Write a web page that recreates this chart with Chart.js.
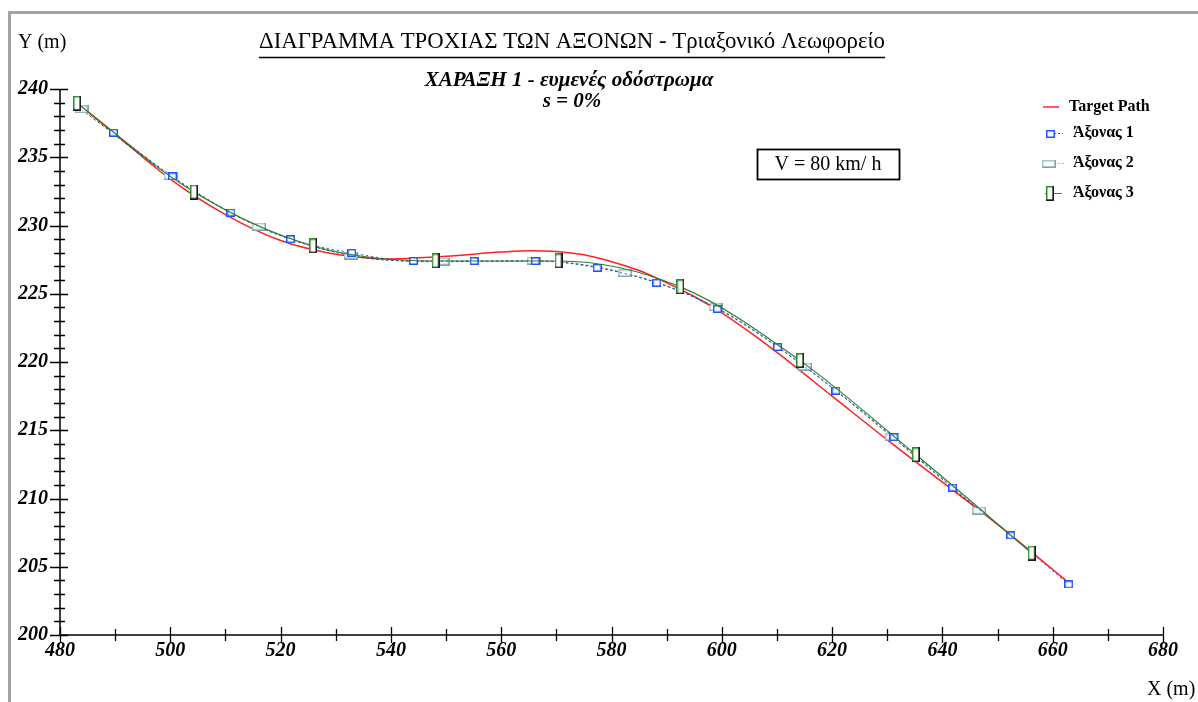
<!DOCTYPE html>
<html>
<head>
<meta charset="utf-8">
<script src="https://cdn.jsdelivr.net/npm/chart.js@4.4.1/dist/chart.umd.min.js"></script>
<style>
html, body { margin: 0; padding: 0; background: #fff; }
</style>
</head>
<body>
<canvas id="trackChart" width="1198" height="702"></canvas>
<script>
// target path (red)
var targetX = [483, 490, 500, 510, 520, 530, 540, 550, 560, 565, 570, 575, 580, 585, 590, 595, 600, 605, 610, 620, 630, 640, 650, 660, 663];
var targetY = [239.0, 236.7, 233.4, 230.8, 228.9, 227.9, 227.55, 227.75, 228.05, 228.15, 228.1, 227.85, 227.35, 226.7, 225.8, 224.8, 223.6, 222.2, 220.7, 217.5, 214.3, 211.2, 208.1, 204.8, 203.8];

// axle 1
var axle1X = [489.7, 500.4, 511.0, 521.8, 532.9, 544.1, 555.1, 566.2, 577.4, 588.2, 599.2, 610.1, 620.7, 631.2, 641.85, 652.4, 662.9];
var axle1Y = [236.8, 233.6, 230.95, 229.0, 228.0, 227.4, 227.4, 227.4, 226.9, 225.8, 223.9, 221.1, 217.9, 214.5, 210.8, 207.3, 203.7];

// axle 2
var axle2X = [483.9, 500.1, 516.1, 532.8, 549.4, 565.9, 582.5, 598.9, 615.1, 630.9, 646.7];
var axle2Y = [238.5, 233.6, 229.9, 227.8, 227.35, 227.4, 226.5, 224.0, 219.65, 214.5, 209.1];

// axle 3
var axle3X = [483.1, 504.3, 525.9, 548.1, 570.4, 592.5, 614.2, 635.2, 656.2];
var axle3Y = [238.95, 232.45, 228.5, 227.4, 227.4, 225.5, 220.1, 213.2, 206.0];

var seriesNames = ["Target Path", "Άξονας 1", "Άξονας 2", "Άξονας 3"];
var xTicks = [480, 500, 520, 540, 560, 580, 600, 620, 640, 660, 680];
var yTicks = [200, 205, 210, 215, 220, 225, 230, 235, 240];

function toPoints(xs, ys) {
    return xs.map(function (x, i) { return { x: x, y: ys[i] }; });
}

function boxMarker(w, h, edge, shade) {
    var c = document.createElement('canvas');
    c.width = w;
    c.height = h;
    var g = c.getContext('2d');
    g.fillStyle = '#fff';
    g.fillRect(0, 0, w, h);
    g.strokeStyle = edge;
    g.lineWidth = 1.5;
    g.strokeRect(0.75, 0.75, w - 1.5, h - 1.5);
    if (shade) {
        g.strokeStyle = shade;
        g.beginPath();
        g.moveTo(w - 0.75, 0);
        g.lineTo(w - 0.75, h - 0.75);
        g.lineTo(0, h - 0.75);
        g.stroke();
    }
    return c;
}

var mark1 = boxMarker(9, 8, '#1f55ff');
var mark2 = boxMarker(14, 8, '#a9c6c9', '#7fa3a6');
var mark3 = boxMarker(8, 15, '#2e8b2e', '#1a1a1a');

var serif = "'Liberation Serif', 'Times New Roman', serif";

var decor = {
    id: 'decor',
    afterDraw: function (chart) {
        var ctx = chart.ctx, xs = chart.scales.x, ys = chart.scales.y, a = chart.chartArea;
        ctx.save();
        // outer grey frame
        ctx.fillStyle = '#a3a3a3';
        ctx.fillRect(8, 11, 1190, 3);
        ctx.fillRect(8, 11, 3, 691);

        // axes
        ctx.strokeStyle = '#000';
        ctx.lineWidth = 1.5;
        ctx.beginPath();
        ctx.moveTo(a.left, a.top);
        ctx.lineTo(a.left, a.bottom);
        ctx.lineTo(a.right, a.bottom);
        ctx.stroke();

        ctx.lineWidth = 1.3;
        ctx.beginPath();
        for (var v = yTicks[0]; v <= yTicks[yTicks.length - 1]; v++) {
            var py = Math.round(ys.getPixelForValue(v)) + 0.5;
            var major = v % 5 === 0;
            ctx.moveTo(a.left - (major ? 10 : 6), py);
            ctx.lineTo(a.left + (major ? 8 : 5), py);
        }
        for (var u = xTicks[0]; u <= xTicks[xTicks.length - 1]; u += 10) {
            var px = Math.round(xs.getPixelForValue(u)) + 0.5;
            var maj = u % 20 === 0;
            ctx.moveTo(px, a.bottom - (maj ? 8 : 6));
            ctx.lineTo(px, a.bottom + (maj ? 8 : 6));
        }
        ctx.stroke();

        // titles
        ctx.fillStyle = '#000';
        ctx.textBaseline = 'middle';
        ctx.textAlign = 'center';
        var title = "ΔΙΑΓΡΑΜΜΑ ΤΡΟΧΙΑΣ ΤΩΝ ΑΞΟΝΩΝ - Τριαξονικό Λεωφορείο";
        ctx.font = '20px ' + serif;
        var tw = ctx.measureText(title).width;
        var fs = 20 * 626 / tw;
        ctx.font = fs.toFixed(1) + 'px ' + serif;
        tw = ctx.measureText(title).width;
        ctx.fillText(title, 572, 42);
        ctx.lineWidth = 1.5;
        ctx.beginPath();
        ctx.moveTo(572 - tw / 2, 57.5);
        ctx.lineTo(572 + tw / 2, 57.5);
        ctx.stroke();

        ctx.font = 'italic bold 21px ' + serif;
        ctx.fillText("ΧΑΡΑΞΗ 1 - ευμενές οδόστρωμα", 569, 81);
        ctx.fillText("s = 0%", 572, 102);

        // axis names
        ctx.font = '20px ' + serif;
        ctx.textAlign = 'left';
        ctx.fillText("Y (m)", 18, 43);
        ctx.fillText("X (m)", 1147, 690);

        // speed box
        ctx.lineWidth = 1.8;
        ctx.strokeRect(757.5, 149.5, 142, 30);
        ctx.textAlign = 'center';
        ctx.font = '20px ' + serif;
        ctx.fillText("V = 80 km/ h", 828, 165);

        // legend
        var rows = [107, 133, 163, 193];
        ctx.textAlign = 'left';
        ctx.font = 'bold 16px ' + serif;
        for (var i = 0; i < 4; i++) {
            ctx.fillStyle = '#000';
            ctx.fillText(seriesNames[i], i === 0 ? 1069 : 1073, rows[i]);
        }
        ctx.lineWidth = 1.5;
        ctx.strokeStyle = '#ff2a2a';
        ctx.beginPath(); ctx.moveTo(1043, rows[0]); ctx.lineTo(1059, rows[0]); ctx.stroke();
        ctx.lineWidth = 1;
        ctx.setLineDash([2, 2]);
        ctx.strokeStyle = '#1f55ff';
        ctx.beginPath(); ctx.moveTo(1050, rows[1] + 0.5); ctx.lineTo(1063, rows[1] + 0.5); ctx.stroke();
        ctx.strokeStyle = '#a9c6c9';
        ctx.beginPath(); ctx.moveTo(1050, rows[2] + 0.5); ctx.lineTo(1064, rows[2] + 0.5); ctx.stroke();
        ctx.setLineDash([]);
        ctx.strokeStyle = '#2e8b2e';
        ctx.beginPath(); ctx.moveTo(1045, rows[3] + 0.5); ctx.lineTo(1062, rows[3] + 0.5); ctx.stroke();
        ctx.drawImage(mark1, 1046, rows[1] - 3);
        ctx.drawImage(mark2, 1042, rows[2] - 3);
        ctx.drawImage(mark3, 1046, rows[3] - 7);
        ctx.restore();
    }
};

var tickFont = { family: serif, size: 20, style: 'italic', weight: 'bold' };

var ctx = document.getElementById('trackChart').getContext('2d');
var trackChart = new Chart(ctx, {
    type: 'scatter',
    data: {
        datasets: [{
                label: seriesNames[0],
                data: toPoints(targetX, targetY),
                showLine: true,
                borderColor: '#ff2020',
                borderWidth: 1.5,
                pointRadius: 0,
                cubicInterpolationMode: 'monotone',
                order: 4
            },
            {
                label: seriesNames[2],
                data: toPoints(axle2X, axle2Y),
                showLine: true,
                borderColor: '#2f4f4f',
                borderWidth: 1,
                borderDash: [3, 2],
                pointStyle: mark2,
                pointRadius: 5,
                cubicInterpolationMode: 'monotone',
                order: 3
            },
            {
                label: seriesNames[1],
                data: toPoints(axle1X, axle1Y),
                showLine: true,
                borderColor: '#1f55ff',
                borderWidth: 1,
                borderDash: [2, 3],
                pointStyle: mark1,
                pointRadius: 4,
                cubicInterpolationMode: 'monotone',
                order: 2
            },
            {
                label: seriesNames[3],
                data: toPoints(axle3X, axle3Y),
                showLine: true,
                borderColor: '#2e7d2e',
                borderWidth: 1.2,
                pointStyle: mark3,
                pointRadius: 5,
                cubicInterpolationMode: 'monotone',
                order: 1
            }
        ]
    },
    options: {
        responsive: false,
        animation: false,
        devicePixelRatio: 1,
        layout: { padding: { top: 89, right: 35, left: 0, bottom: 0 } },
        plugins: {
            legend: { display: false },
            tooltip: { enabled: false }
        },
        scales: {
            x: {
                type: 'linear',
                min: 480,
                max: 680,
                afterFit: function (s) { s.height = 67; },
                afterBuildTicks: function (s) { s.ticks = xTicks.map(function (v) { return { value: v }; }); },
                grid: { display: false, drawTicks: false },
                border: { display: false },
                ticks: { color: '#000', font: tickFont, padding: 4, maxRotation: 0 }
            },
            y: {
                type: 'linear',
                min: 200,
                max: 240,
                afterFit: function (s) { s.width = 60; },
                afterBuildTicks: function (s) { s.ticks = yTicks.map(function (v) { return { value: v }; }); },
                grid: { display: false, drawTicks: false },
                border: { display: false },
                ticks: { color: '#000', font: tickFont, padding: 12 }
            }
        }
    },
    plugins: [decor]
});
</script>
</body>
</html>
